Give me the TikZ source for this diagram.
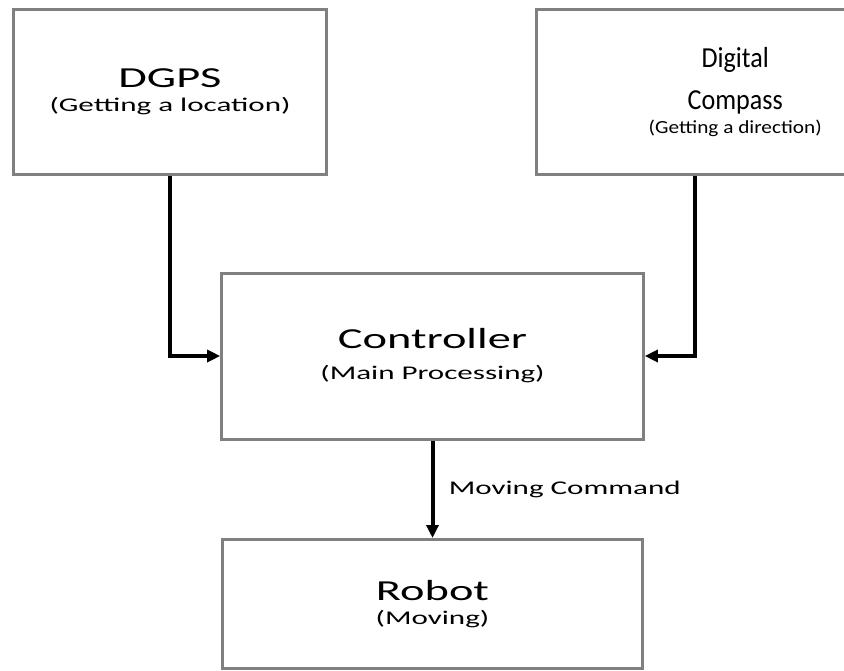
\documentclass[tikz,border=0pt]{standalone}
\usepackage{fontspec}
\setmainfont{Carlito}
\newfontfamily\widefont[FakeStretch=1.6]{Carlito}
\newfontfamily\narrowfont[FakeStretch=0.9]{Carlito}
\newfontfamily\midfont[FakeStretch=1.15]{Carlito}
\usetikzlibrary{arrows.meta}

\definecolor{boxgray}{RGB}{128,128,128}
\newcommand{\ttl}{\widefont\fontsize{29}{24}\selectfont}
\newcommand{\sbt}{\widefont\fontsize{19.4}{24}\selectfont}
\newcommand{\cttl}{\narrowfont\fontsize{29}{24}\selectfont}
\newcommand{\csbt}{\midfont\fontsize{18.5}{24}\selectfont}

\begin{document}
\begin{tikzpicture}[x=1pt, y=-1pt,
        block/.style={draw=boxgray, line width=3pt, align=center, inner sep=0pt, font=\sbt},
        flow/.style={line width=4pt, -{Triangle[length=13pt, width=12pt]}}]
        \useasboundingbox (0,0) rectangle (844,670);
        \clip (0,0) rectangle (844,670);

        % Draw blocks
        \node[block, minimum width=313pt, minimum height=164.5pt] (dgps) at (170, 91.75) {\ttl DGPS\\\sbt (Getting a location)};
        \node[block, minimum width=397.5pt, minimum height=164.5pt, font=\csbt] (compass) at (735.25, 91.75) {\cttl Digital\\[18pt]\cttl Compass\\\csbt (Getting a direction)};
        \node[block, minimum width=421.6pt, minimum height=166pt] (ctrl) at (432.5, 356) {\ttl Controller\\[7pt]\sbt (Main Processing)};
        \node[block, minimum width=420.6pt, minimum height=128.5pt] (robot) at (432.5, 603.75) {\ttl Robot\\\sbt (Moving)};

        \coordinate (cmpx) at (695.3, 0);

        % Draw communication lines
        \draw[flow] (dgps.south) |- (ctrl.west);
        \draw[flow] (compass.south -| cmpx) |- (ctrl.east);
        \draw[flow] (ctrl) -- (robot) node[midway, right=11pt, font=\sbt] {Moving Command};
\end{tikzpicture}
\end{document}
